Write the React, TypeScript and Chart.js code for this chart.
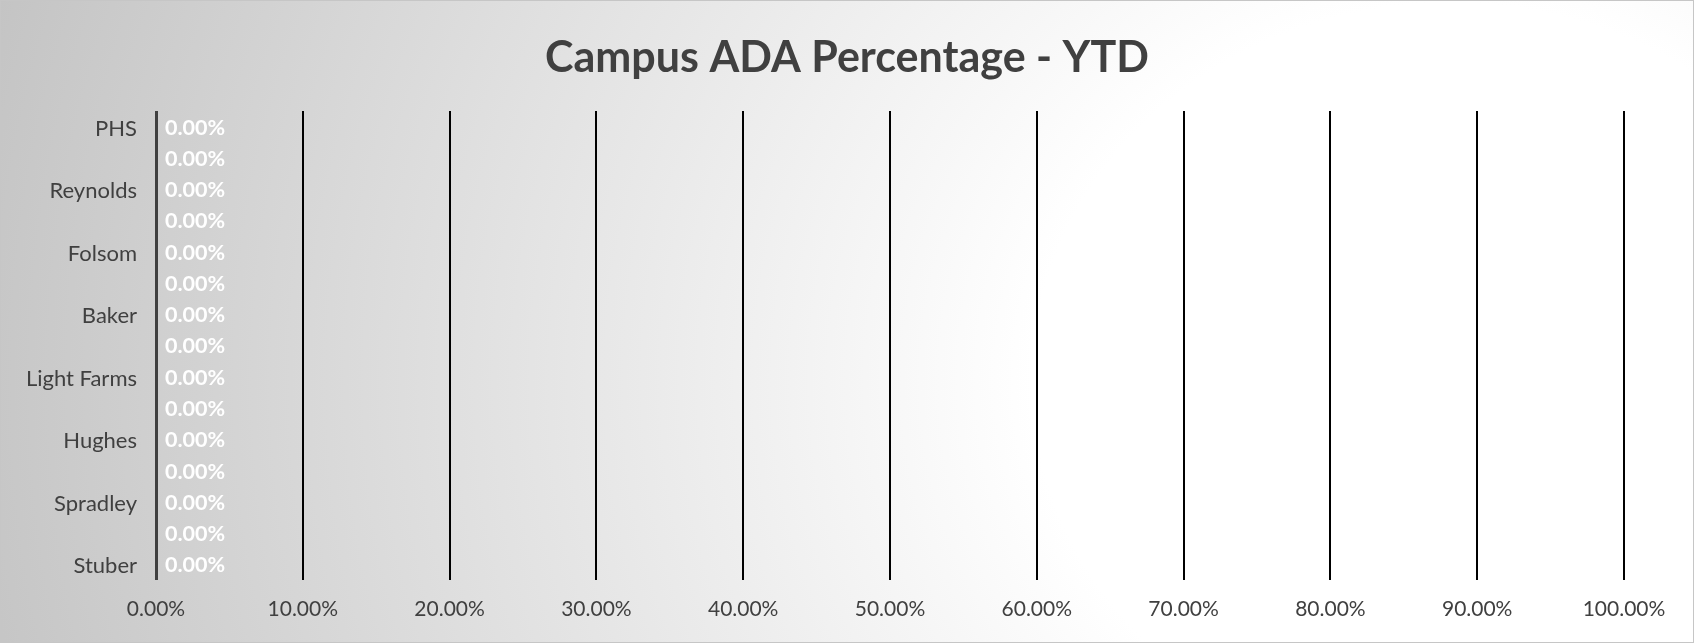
import React, { useEffect, useRef } from "react";
import { Chart, registerables } from "chart.js";

Chart.register(...registerables);

const TITLE = "Campus ADA Percentage - YTD";
// 15 rows; the in-between category names are hidden (skipped) in the reference
const categories: string[] = [
  "PHS", "", "Reynolds", "", "Folsom", "", "Baker", "",
  "Light Farms", "", "Hughes", "", "Spradley", "", "Stuber",
];
const adaValues: number[] = [0, 0, 0, 0, 0, 0, 0, 0, 0, 0, 0, 0, 0, 0, 0];
const xTickValues: number[] = [0, 0.1, 0.2, 0.3, 0.4, 0.5, 0.6, 0.7, 0.8, 0.9, 1.0];

const FONT = "Lato, 'Open Sans', sans-serif";
const pct = (v: number) => (v * 100).toFixed(2) + "%";

const titlePlugin = {
  id: "customTitle",
  afterDraw(chart: any) {
    const ctx = chart.ctx;
    ctx.save();
    ctx.font = `bold 43px ${FONT}`;
    ctx.fillStyle = "#404040";
    ctx.textAlign = "center";
    ctx.textBaseline = "middle";
    ctx.fillText(TITLE, chart.width / 2, 57);
    ctx.restore();
  },
};

const valueLabelPlugin = {
  id: "valueLabels",
  afterDatasetsDraw(chart: any) {
    const ctx = chart.ctx;
    const meta = chart.getDatasetMeta(0);
    ctx.save();
    ctx.font = `bold 21.5px ${FONT}`;
    ctx.fillStyle = "#ffffff";
    ctx.textAlign = "left";
    ctx.textBaseline = "middle";
    meta.data.forEach((bar: any, i: number) => {
      ctx.fillText(pct(adaValues[i]), bar.x + 9, bar.y + 1);
    });
    ctx.restore();
  },
};

export default function App() {
  const canvasRef = useRef<HTMLCanvasElement | null>(null);

  useEffect(() => {
    document.body.style.margin = "0";
    let chart: Chart | null = null;
    let cancelled = false;
    const make = () => {
      if (cancelled || !canvasRef.current) return;
      chart = new Chart(canvasRef.current, {
        type: "bar",
        data: {
          labels: categories,
          datasets: [
            {
              label: "ADA %",
              data: adaValues,
              backgroundColor: "#4472c4",
              barPercentage: 0.8,
              categoryPercentage: 0.9,
            },
          ],
        },
        options: {
          indexAxis: "y",
          animation: false,
          responsive: false,
          layout: { padding: { top: 110, right: 69, bottom: 0, left: 0 } },
          plugins: {
            legend: { display: false },
            title: { display: false },
            tooltip: { enabled: false },
          },
          scales: {
            x: {
              type: "linear",
              min: 0,
              max: 1,
              afterBuildTicks: (scale: any) => {
                scale.ticks = xTickValues.map((v) => ({ value: v }));
              },
              afterFit: (scale: any) => {
                scale.height = 62;
              },
              ticks: {
                callback: (v: any) => pct(Number(v)),
                color: "#404040",
                font: { family: FONT, size: 21 },
                padding: 17,
                maxRotation: 0,
                autoSkip: false,
              },
              grid: {
                drawTicks: false,
                color: (c: any) => (c.index === 0 ? "#404040" : "#000000"),
                lineWidth: (c: any) => (c.index === 0 ? 3 : 2),
              },
              border: { display: false },
            },
            y: {
              type: "category",
              afterFit: (scale: any) => {
                scale.width = 155;
              },
              ticks: {
                color: "#404040",
                font: { family: FONT, size: 22 },
                padding: 11,
                labelOffset: 2,
                autoSkip: false,
              },
              grid: { display: false },
              border: { display: false },
            },
          },
        },
        plugins: [valueLabelPlugin, titlePlugin],
      } as any);
    };
    const fonts: any = (document as any).fonts;
    if (fonts && fonts.load) {
      Promise.all([
        fonts.load(`22px Lato`),
        fonts.load(`bold 43px Lato`),
        fonts.load(`bold 21px Lato`),
      ])
        .catch(() => null)
        .then(make);
    } else {
      make();
    }
    return () => {
      cancelled = true;
      if (chart) chart.destroy();
    };
  }, []);

  return (
    <div
      style={{
        position: "relative",
        width: 1694,
        height: 643,
        boxSizing: "border-box",
        border: "1px solid #c6c6c6",
        background:
          "radial-gradient(ellipse 1550px 1400px at 1450px 380px, #ffffff 0%, #ffffff 27%, #c2c2c2 100%)",
      }}
    >
      <canvas
        ref={canvasRef}
        width={1692}
        height={641}
        style={{ display: "block", width: 1692, height: 641 }}
      />
    </div>
  );
}
